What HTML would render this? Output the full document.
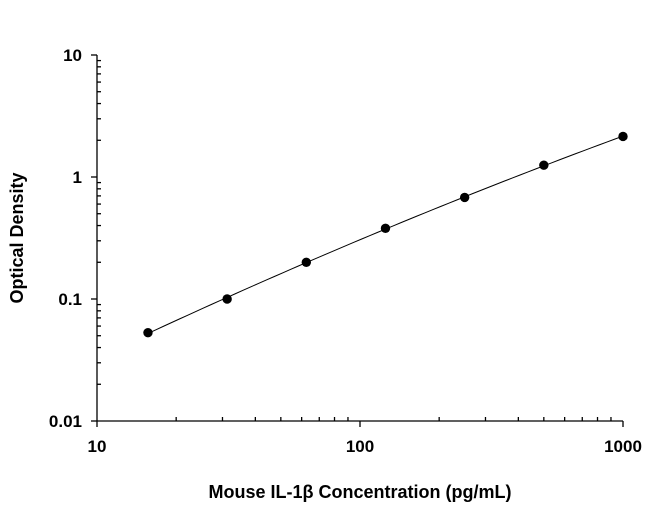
<!DOCTYPE html>
<html><head><meta charset="utf-8"><style>
html,body{margin:0;padding:0;background:#fff;}
svg{display:block;font-family:"Liberation Sans",sans-serif;font-weight:bold;}
</style></head><body>
<svg id="s" width="650" height="505" viewBox="0 0 650 505" xmlns="http://www.w3.org/2000/svg">
<g stroke="#000" stroke-width="1.3" fill="none" id="ax">
<line x1="97" y1="55" x2="97" y2="421"/>
<line x1="97" y1="421" x2="623" y2="421"/>
</g>
<g font-size="17" text-anchor="end" fill="#000">
<text x="82" y="61">10</text>
<text x="82" y="183">1</text>
<text x="82" y="305">0.1</text>
<text x="82" y="427">0.01</text>
</g>
<g font-size="17" text-anchor="middle" fill="#000">
<text x="97" y="452">10</text>
<text x="360" y="452">100</text>
<text x="623" y="452">1000</text>
</g>
<text x="360" y="498" font-size="18" text-anchor="middle">Mouse IL-1β Concentration (pg/mL)</text>
<text transform="translate(23,238) rotate(-90)" font-size="18" text-anchor="middle">Optical Density</text>
<path id="curve" fill="none" stroke="#000" stroke-width="1"/>
<g id="pts" fill="#000"></g>
</svg>
<script>
var ns="http://www.w3.org/2000/svg",ax=document.getElementById('ax');
function L(a,b,c,d){var l=document.createElementNS(ns,'line');l.setAttribute('x1',a);l.setAttribute('y1',b);l.setAttribute('x2',c);l.setAttribute('y2',d);ax.appendChild(l);}
function X(v){return 97+263*(Math.log10(v)-1);}
function Y(v){return 55+122*(1-Math.log10(v));}
[10,1,0.1,0.01].forEach(function(v){L(91,Y(v),97,Y(v));});
[10,100,1000].forEach(function(v){L(X(v),421,X(v),427);});
for(var d=0.01;d<5;d*=10)for(var k=2;k<10;k++){var y=Y(d*k);L(97,y,101,y);}
for(var d=10;d<500;d*=10)for(var k=2;k<10;k++){var x=X(d*k);L(x,421,x,417);}
var xs=[15.625,31.25,62.5,125,250,500,1000],ys=[0.053,0.1,0.2,0.38,0.68,1.25,2.15];
var p=document.getElementById('pts'),path='';
var lx=xs.map(Math.log10),ly=ys.map(Math.log10);
for(var i=0;i<xs.length;i++){var c=document.createElementNS(ns,'circle');c.setAttribute('cx',X(xs[i]));c.setAttribute('cy',Y(ys[i]));c.setAttribute('r',4.7);p.appendChild(c);}
var n=lx.length,S=[0,0,0,0,0],T=[0,0,0];
for(i=0;i<n;i++){var u=lx[i];for(var k=0;k<5;k++)S[k]+=Math.pow(u,k);for(k=0;k<3;k++)T[k]+=ly[i]*Math.pow(u,k);}
var M=[[S[0],S[1],S[2],T[0]],[S[1],S[2],S[3],T[1]],[S[2],S[3],S[4],T[2]]];
for(i=0;i<3;i++){for(var j=i+1;j<3;j++){var f=M[j][i]/M[i][i];for(k=i;k<4;k++)M[j][k]-=f*M[i][k];}}
var cf=[0,0,0];for(i=2;i>=0;i--){var s=M[i][3];for(j=i+1;j<3;j++)s-=M[i][j]*cf[j];cf[i]=s/M[i][i];}
for(var t=0;t<=60;t++){var u=lx[0]+(lx[n-1]-lx[0])*t/60,v=cf[0]+cf[1]*u+cf[2]*u*u;path+=(t?'L':'M')+X(Math.pow(10,u)).toFixed(2)+' '+Y(Math.pow(10,v)).toFixed(2);}
document.getElementById('curve').setAttribute('d',path);
</script>
</body></html>
